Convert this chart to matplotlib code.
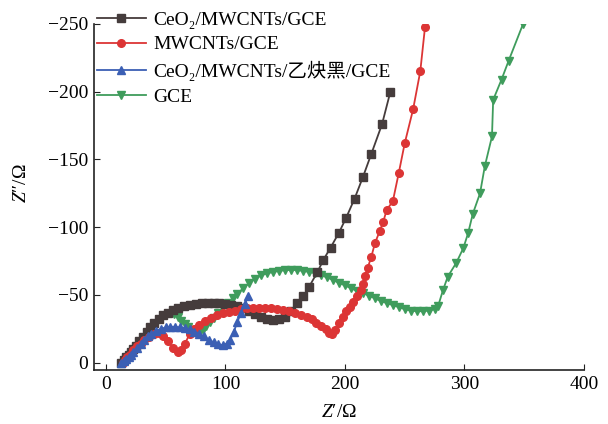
import matplotlib
matplotlib.use("Agg")
import matplotlib.pyplot as plt

# font setup: serif text, CJK fallback for the blue label
plt.rcParams['font.family'] = ['Liberation Serif', 'DejaVu Serif', 'Noto Sans CJK SC']
plt.rcParams['mathtext.fontset'] = 'custom'
plt.rcParams['mathtext.rm'] = 'Liberation Serif'
plt.rcParams['mathtext.it'] = 'Liberation Serif:italic'

labels = ["CeO₂/MWCNTs/GCE", "MWCNTs/GCE", "CeO₂/MWCNTs/乙炔黑/GCE", "GCE"]
colors = ["#453c3c", "#dc3535", "#3b5fb4", "#3f9c5c"]
markers = ["s", "o", "^", "v"]

# CeO2/MWCNTs/GCE
black_x = [13, 15, 17, 19, 21, 23, 25, 28, 31, 34, 37, 40, 44, 48, 52, 56, 60, 65, 70, 75,
           80, 85, 90, 95, 100, 105, 110, 115, 120, 125, 130, 135, 140, 145, 150, 155, 160,
           165, 170, 177, 182, 188, 195, 201, 208, 215, 222, 231, 238]
black_y = [0, -2, -4, -6, -8, -10, -12, -16, -19, -23, -26, -29, -32, -35, -37, -39, -40.5, -41.5, -42.5, -43.3,
           -43.8, -44, -44, -43.8, -43.3, -42.5, -41.5, -40, -38, -36, -34, -32.5, -31.5, -32, -34, -38, -44,
           -49, -56, -67, -76, -85, -96, -107, -121, -137, -154, -176, -200]

# MWCNTs/GCE
red_x = [14, 16, 18, 20, 23, 26, 29, 32, 36, 40, 44, 48, 52, 56, 60, 63, 66, 70, 74, 78,
         83, 88, 93, 98, 103, 108, 113, 118, 123, 128, 133, 138, 143, 148, 153, 158, 163, 168, 172, 176,
         180, 184, 187, 189, 192, 195, 198, 201, 204, 207, 210, 213, 215, 217, 219, 222, 225, 229, 232, 235,
         240, 245, 250, 257, 263, 267]
red_y = [0, -2, -4, -6, -9, -12, -14, -16.5, -19, -21, -22, -20, -16, -11, -8, -9, -14, -21, -25, -28,
         -31, -33, -35, -36.5, -37.5, -38.5, -39.5, -40, -40.5, -40.5, -40.5, -40, -39.5, -39, -38, -36.5, -35.5, -34, -32, -29.5,
         -27, -24.5, -22, -21, -24, -29, -34, -38, -41, -45, -49, -54, -58, -64, -70, -78, -88, -97, -104, -113,
         -119, -140, -162, -187, -215, -248]

# CeO2/MWCNTs/乙炔黑/GCE
blue_x = [13, 15, 17, 19, 21, 23, 26, 29, 32, 35, 38, 42, 46, 50, 54, 58, 62, 66, 70, 74,
          78, 82, 86, 90, 94, 98, 101, 104, 107, 110, 113, 116, 119]
blue_y = [0, -1, -2.5, -4, -6, -8, -11, -14, -17, -19.5, -21.5, -23.5, -25, -26, -26.5, -26.5, -26, -25.5, -24.5, -23,
          -21.5, -19.5, -17, -15, -13.5, -13, -14, -17, -23, -30, -37, -43, -49]

# GCE
green_x = [57, 60, 63, 66, 69, 72, 75, 78, 81, 84, 87, 90, 94, 98, 102, 106, 110, 115, 120, 125,
           130, 135, 140, 145, 150, 155, 160, 165, 170, 175, 180, 185, 190, 195, 200, 205, 210, 215, 220, 225,
           230, 235, 240, 245, 250, 255, 260, 265, 270, 275, 278, 282, 286, 293, 299, 303, 307, 313, 317, 323,
           324, 331, 337, 349]
green_y = [-36, -33.5, -31, -28.5, -26, -24, -22.5, -22, -24, -27, -30, -33, -37, -41, -44, -47.5, -51, -55, -59, -62,
           -64.5, -66, -67, -67.8, -68.3, -68.5, -68.3, -67.8, -67, -66, -64.5, -63, -61, -59, -57, -55, -53, -51.5, -49.5, -47.5,
           -45.5, -44, -42.5, -41, -39.5, -38.5, -38, -38, -38.5, -39.5, -42, -53.5, -63.5, -73.5, -84.5, -95.5, -110, -125, -145, -167,
           -194, -209, -223, -250]

series = [(black_x, black_y), (red_x, red_y), (blue_x, blue_y), (green_x, green_y)]

fig = plt.figure(figsize=(6.08, 4.24), dpi=100)
ax = fig.add_axes([94 / 608, 54 / 424, 490 / 608, 346 / 424])

order = [3, 0, 1, 2]
handles = {}
for i in order:
    xs, ys = series[i]
    h, = ax.plot(xs, ys, color=colors[i], marker=markers[i], markersize=5.5,
                 linewidth=1.3, label=labels[i])
    handles[i] = h

ax.set_xlim(-10, 400)
ax.set_ylim(5.4, -250)
ax.set_xticks([0, 100, 200, 300, 400])
ax.set_yticks([0, -50, -100, -150, -200, -250])
ax.spines['top'].set_visible(False)
ax.spines['right'].set_visible(False)
ax.tick_params(direction='in', length=4, labelsize=14, pad=4, color='#222222')
for s in ax.spines.values():
    s.set_linewidth(1.2)
    s.set_color('#222222')

ax.set_xlabel("$Z$′/Ω", fontsize=14, labelpad=8)
ax.set_ylabel("$Z$″/Ω", fontsize=14)
ax.yaxis.set_label_coords(-0.131, 0.54)

leg = ax.legend([handles[i] for i in range(4)], labels, loc='upper left',
                bbox_to_anchor=(97 / 608, 1 - 11 / 424), bbox_transform=fig.transFigure,
                frameon=False, fontsize=14, handlelength=2.5, handletextpad=0.4,
                labelspacing=0.37, borderpad=0, borderaxespad=0, numpoints=1)

fig.savefig("out.png", dpi=100)
